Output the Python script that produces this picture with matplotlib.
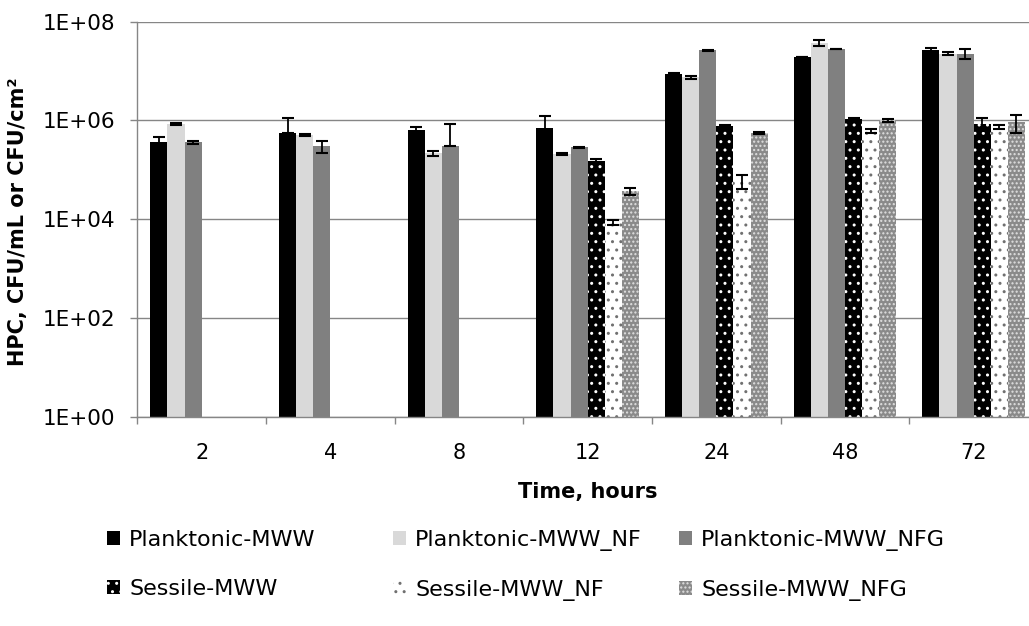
import numpy as np
import matplotlib
matplotlib.use('Agg')
from matplotlib import pyplot as plt
from matplotlib.patches import Patch
from matplotlib.ticker import FixedLocator, FuncFormatter

plt.rcParams['font.family'] = 'DejaVu Sans'
plt.rcParams['hatch.linewidth'] = 1.0

nan = np.nan
hours = ['2', '4', '8', '12', '24', '48', '72']

plank_mww = [3.7e5, 5.6e5, 6.4e5, 6.9e5, 8.8e6, 1.93e7, 2.67e7]
plank_mww_err = [1.0e5, 5.8e5, 9e4, 5.6e5, 2e5, 3e5, 2.5e6]
plank_nf = [8.5e5, 5.1e5, 2.2e5, 2.1e5, 7.5e6, 3.7e7, 2.24e7]
plank_nf_err = [3e4, 3e4, 2.5e4, 1e4, 5e5, 5e6, 1.5e6]
plank_nfg = [3.6e5, 3.0e5, 3.0e5, 2.85e5, 2.63e7, 2.8e7, 2.24e7]
plank_nfg_err = [2e4, 8.5e4, 5.6e5, 8e3, 5e5, 5e5, 5e6]
sess_mww = [nan, nan, nan, 1.53e5, 7.7e5, 1.08e6, 8.5e5]
sess_mww_err = [nan, nan, nan, 1.2e4, 3e4, 4e4, 2.5e5]
sess_nf = [nan, nan, nan, 8.8e3, 6.0e4, 6.2e5, 7.4e5]
sess_nf_err = [nan, nan, nan, 1e3, 1.9e4, 6e4, 6e4]
sess_nfg = [nan, nan, nan, 3.7e4, 5.6e5, 1.0e6, 9.2e5]
sess_nfg_err = [nan, nan, nan, 6e3, 2e4, 7e4, 3.5e5]

names = ['Planktonic-MWW', 'Planktonic-MWW_NF', 'Planktonic-MWW_NFG',
         'Sessile-MWW', 'Sessile-MWW_NF', 'Sessile-MWW_NFG']
values = [plank_mww, plank_nf, plank_nfg, sess_mww, sess_nf, sess_nfg]
errors = [plank_mww_err, plank_nf_err, plank_nfg_err, sess_mww_err, sess_nf_err, sess_nfg_err]

# face, hatch colour, hatch
styles = [('#000000', '#000000', None),
          ('#d9d9d9', '#d9d9d9', None),
          ('#808080', '#808080', None),
          ('#000000', '#ffffff', '..'),
          ('#ffffff', '#707070', '..'),
          ('#8a8a8a', '#e0e0e0', '....')]

fig = plt.figure(figsize=(10.29, 6.26), dpi=100)
ax = fig.add_axes([137.3 / 1029, 1 - 416.7 / 626, 900.7 / 1029, 395.0 / 626])

x = np.arange(len(hours))
w = 0.133
for i in range(6):
    v = np.array(values[i], dtype=float)
    e = np.array(errors[i], dtype=float)
    face, hc, hatch = styles[i]
    pos = x + (i - 2.5) * w
    ax.bar(pos, v, width=w, color=face, edgecolor=hc, hatch=hatch, linewidth=0, zorder=2)
    lower = np.where(e < v, e, 0)
    ax.errorbar(pos, v, yerr=[lower, e], fmt='none', ecolor='black', elinewidth=1.3,
                capsize=4.5, capthick=1.5, zorder=3)

ax.set_yscale('log')
ax.set_ylim(1, 1e8)
ax.set_xlim(-0.5, 6.5)
ax.yaxis.set_major_locator(FixedLocator([1, 1e2, 1e4, 1e6, 1e8]))
ax.yaxis.set_minor_locator(FixedLocator([]))
ax.yaxis.set_major_formatter(FuncFormatter(lambda v, p: '1E+%02d' % int(round(np.log10(v)))))

ax.set_xticks(np.arange(-0.5, 7, 1))
ax.set_xticklabels([])
ax.set_xticks(x, minor=True)
ax.set_xticklabels(hours, minor=True)
ax.tick_params(axis='x', which='major', length=5, width=1, color='#868686')
ax.tick_params(axis='x', which='minor', length=0, pad=19, labelsize=15)
ax.tick_params(axis='y', length=5, width=1, color='#868686', pad=11, labelsize=15.5)

ax.grid(axis='y', color='#868686', linewidth=1.0, zorder=0)
ax.set_axisbelow(True)
for s in ['top', 'right']:
    ax.spines[s].set_visible(False)
for s in ['left', 'bottom']:
    ax.spines[s].set_color('#868686')
    ax.spines[s].set_linewidth(1.0)

fig.text(18 / 1029, 1 - 222 / 626, 'HPC, CFU/mL or CFU/cm²', rotation=90,
         ha='center', va='center', fontsize=15, fontweight='bold')
fig.text(588 / 1029, 1 - 492 / 626, 'Time, hours', ha='center', va='center',
         fontsize=15, fontweight='bold')

handles = []
for i in range(6):
    face, hc, hatch = styles[i]
    handles.append(Patch(facecolor=face, edgecolor=hc, hatch=hatch, linewidth=0, label=names[i]))

col_x = [107, 393, 679]
for c in range(3):
    fig.legend(handles=[handles[c], handles[c + 3]], loc='upper left',
               bbox_to_anchor=(col_x[c] / 1029, 1 - 530 / 626), frameon=False,
               fontsize=16, handlelength=0.6, handleheight=0.6, handletextpad=0.4,
               labelspacing=1.3, borderpad=0, borderaxespad=0)

fig.savefig('out.png', dpi=100)
